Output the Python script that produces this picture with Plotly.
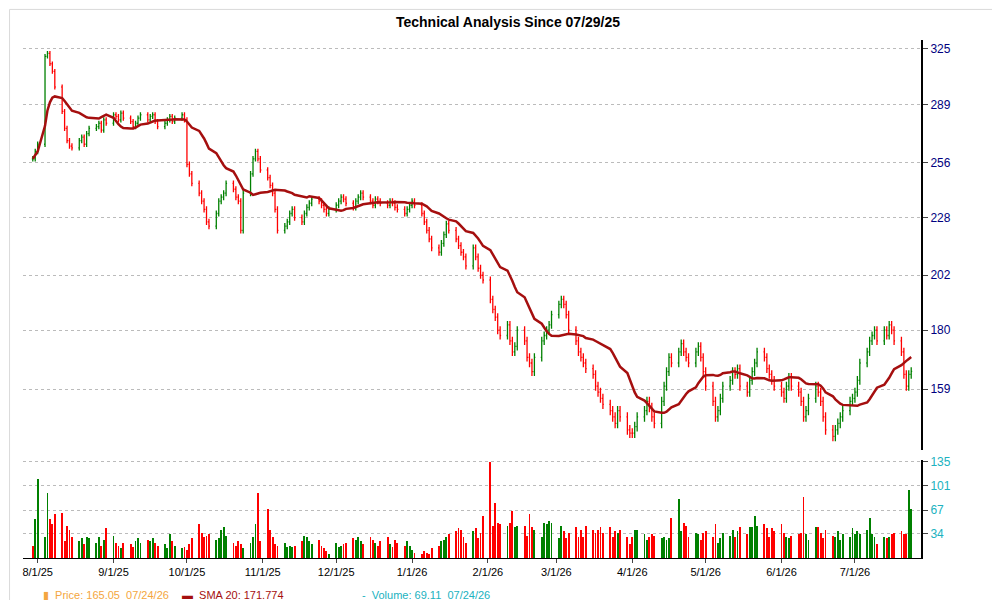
import pandas as pd
import plotly.graph_objects as go
from plotly.subplots import make_subplots

# ---------- datos ----------
jul25 = [258, 262]
aug25 = [266, 320, 322, 315, 310, 300, 285, 275, 268, 265, 264, 268, 270, 266, 272,
         275, 276, 278, 274, 280, 278]
sep25 = [283, 282, 280, 284, 281, 279, 276, 278, 281, 283, 280, 282, 283, 279, 276,
         278, 280, 282, 279, 281, 283, 280]
oct25 = [255, 250, 245, 240, 236, 232, 226, 224, 230, 236, 238, 240, 245, 242, 238,
         236, 222, 240, 250, 258, 262, 258, 252]
nov25 = [248, 244, 240, 232, 222, 224, 226, 230, 232, 228, 226, 230, 233, 235, 237,
         236, 234, 232, 230, 232]
dec25 = [234, 236, 238, 237, 235, 233, 236, 238, 240, 238, 236, 234, 237, 236, 235,
         234, 236, 235, 233, 232, 230, 232, 234]
jan26 = [236, 234, 230, 226, 222, 218, 214, 212, 216, 220, 225, 222, 218, 215, 212,
         210, 206, 214, 210, 205, 202, 200]
feb26 = [192, 188, 185, 180, 178, 182, 176, 172, 174, 180, 176, 170, 168, 165, 170,
         176, 178, 180, 182, 186]
mar26 = [190, 192, 190, 186, 180, 176, 172, 170, 168, 166, 164, 160, 158, 156, 154,
         152, 150, 148, 152, 150, 146, 145]
apr26 = [145, 147, 150, 152, 155, 153, 150, 148, 155, 160, 165, 170, 168, 172, 175,
         172, 170, 168, 172, 174, 170, 165]
may26 = [160, 155, 150, 152, 156, 160, 162, 165, 164, 166, 160, 158, 162, 165, 168,
         172, 170, 166, 164, 162, 160]
jun26 = [158, 156, 160, 163, 160, 158, 155, 150, 152, 156, 160, 158, 155, 150, 146,
         144, 146, 148, 150, 152, 155, 156]
jul26 = [158, 162, 168, 172, 176, 178, 180, 176, 180, 178, 182, 180, 176, 172, 164,
         160, 164, 165.05]
closes = jul25 + aug25 + sep25 + oct25 + nov25 + dec25 + jan26 + feb26 + mar26 + apr26 + may26 + jun26 + jul26

volumes = [
    18, 55, 112, 30, 92, 55, 48, 62, 64, 25,
    45, 40, 30, 25, 28, 20, 30, 28, 22, 30,
    18, 26, 42, 32, 22, 18, 15, 22, 20, 16,
    25, 28, 22, 26, 24, 28, 22, 18, 20, 15,
    34, 24, 18, 14, 16, 12, 20, 28, 48, 35,
    30, 32, 34, 26, 28, 40, 44, 32, 22, 18,
    24, 20, 14, 22, 30, 48, 92, 24, 70, 40,
    30, 20, 18, 22, 16, 18, 16, 18, 24, 32,
    30, 24, 20, 26, 18, 14, 10, 6, 22, 16,
    18, 20, 22, 28, 26, 30, 24, 20, 30, 26,
    22, 18, 24, 30, 20, 16, 26, 22, 18, 24,
    18, 12, 8, 6, 10, 8, 6, 14, 18, 24,
    26, 30, 34, 38, 42, 40, 30, 22, 38, 42,
    28, 36, 60, 135, 45, 78, 50, 48, 46, 50,
    66, 44, 46, 46, 32, 62, 44, 40, 30, 50,
    48, 52, 50, 28, 46, 38, 28, 36, 44, 30,
    40, 30, 46, 40, 35, 40, 44, 36, 44, 30,
    38, 36, 40, 30, 20, 30, 40, 40, 34, 26,
    30, 34, 32, 28, 30, 26, 28, 56, 84, 38,
    50, 46, 30, 36, 34, 26, 36, 38, 30, 48,
    22, 28, 36, 32, 40, 30, 38, 44, 34, 44,
    44, 60, 46, 48, 42, 30, 42, 38, 48, 36,
    30, 28, 32, 34, 36, 86, 34, 26, 44, 44,
    36, 28, 40, 32, 30, 38, 26, 34, 30,
    42, 34, 38, 34, 40, 56, 34, 30, 20, 30,
    28, 30, 34, 36, 38, 34, 34, 96, 69.11,
]

dates = pd.bdate_range("2025-07-30", "2026-07-24")[:len(closes)]
n = min(len(dates), len(volumes))

s = pd.Series(closes, dtype=float)
opens = s.shift(1).fillna(s.iloc[0])
highs = pd.concat([s, opens], axis=1).max(axis=1) + 1.5
lows = pd.concat([s, opens], axis=1).min(axis=1) - 1.5
sma20 = s.rolling(20, min_periods=1).mean()
vol_colors = ["#008000" if c > o else "#ff0000" for c, o in zip(s, opens)]

fig = make_subplots(rows=2, cols=1, shared_xaxes=True)

fig.add_trace(go.Ohlc(
    x=dates, open=opens, high=highs, low=lows, close=s,
    increasing=dict(line=dict(color="#008000", width=1.3)),
    decreasing=dict(line=dict(color="#ff0000", width=1.3)),
    tickwidth=0.4, showlegend=False, hoverinfo="skip"), row=1, col=1)
fig.add_trace(go.Scatter(
    x=dates, y=sma20, mode="lines",
    line=dict(color="#a50f0f", width=2.5), showlegend=False), row=1, col=1)
fig.add_trace(go.Bar(
    x=dates[:n], y=volumes[:n], marker=dict(color=vol_colors[:n], line_width=0),
    width=1000 * 3600 * 24 * 0.35, showlegend=False), row=2, col=1)

tick_dates = pd.date_range("2025-08-01", "2026-07-01", freq="MS")
tick_text = [f"{d.month}/{d.day}/{d.strftime('%y')}" for d in tick_dates]

fig.update_xaxes(range=["2025-07-26", "2026-07-28"], rangeslider_visible=False,
                 showgrid=False, tickvals=tick_dates, ticktext=tick_text,
                 ticks="outside", ticklen=4, showline=True, linecolor="#000",
                 tickfont=dict(size=11, color="#000"))
fig.update_xaxes(showticklabels=False, showline=False, ticks="", row=1, col=1)
fig.update_yaxes(type="log", side="right", range=[2.1457, 2.520], domain=[0.208, 1],
                 tickvals=[159, 180, 202, 228, 256, 289, 325],
                 showgrid=True, gridcolor="#bbbbbb", griddash="dot",
                 ticks="outside", ticklen=5, showline=True, linecolor="#000",
                 linewidth=2, tickfont=dict(size=12, color="#000080"),
                 row=1, col=1)
fig.update_yaxes(side="right", range=[0, 138], domain=[0, 0.19],
                 tickvals=[34, 67, 101, 135],
                 showgrid=True, gridcolor="#bbbbbb", griddash="dot",
                 ticks="outside", ticklen=5, showline=True, linecolor="#000",
                 linewidth=2, tickfont=dict(size=12, color="#20b2c0"),
                 row=2, col=1)

legend_items = [
    (0.02, "\u25ae", "#f4a640", "Price: 165.05  07/24/26"),
    (0.175, "\u25ac", "#a50f0f", "SMA 20: 171.774"),
    (0.375, "-", "#20b2c0", "Volume: 69.11  07/24/26"),
]
for x0, sym, col, txt in legend_items:
    fig.add_annotation(xref="paper", yref="paper", x=x0, y=-0.072,
                       xanchor="left", yanchor="middle", showarrow=False,
                       text=f"{sym}  {txt}", font=dict(size=11, color=col))

fig.update_layout(
    title=dict(text="<b>Technical Analysis Since 07/29/25</b>", x=0.5, y=0.985,
               font=dict(family="Arial", size=14, color="#000")),
    width=1000, height=600, template="simple_white",
    margin=dict(l=15, r=87, t=32, b=50),
    paper_bgcolor="white", plot_bgcolor="white", bargap=0,
    font=dict(family="Arial"),
    shapes=[dict(type="rect", xref="paper", yref="paper", x0=-0.015, x1=1.097,
                 y0=-0.092, y1=1.059, fillcolor="rgba(0,0,0,0)", layer="below",
                 line=dict(color="#888", width=1))],
)

fig.write_html("out.html")
